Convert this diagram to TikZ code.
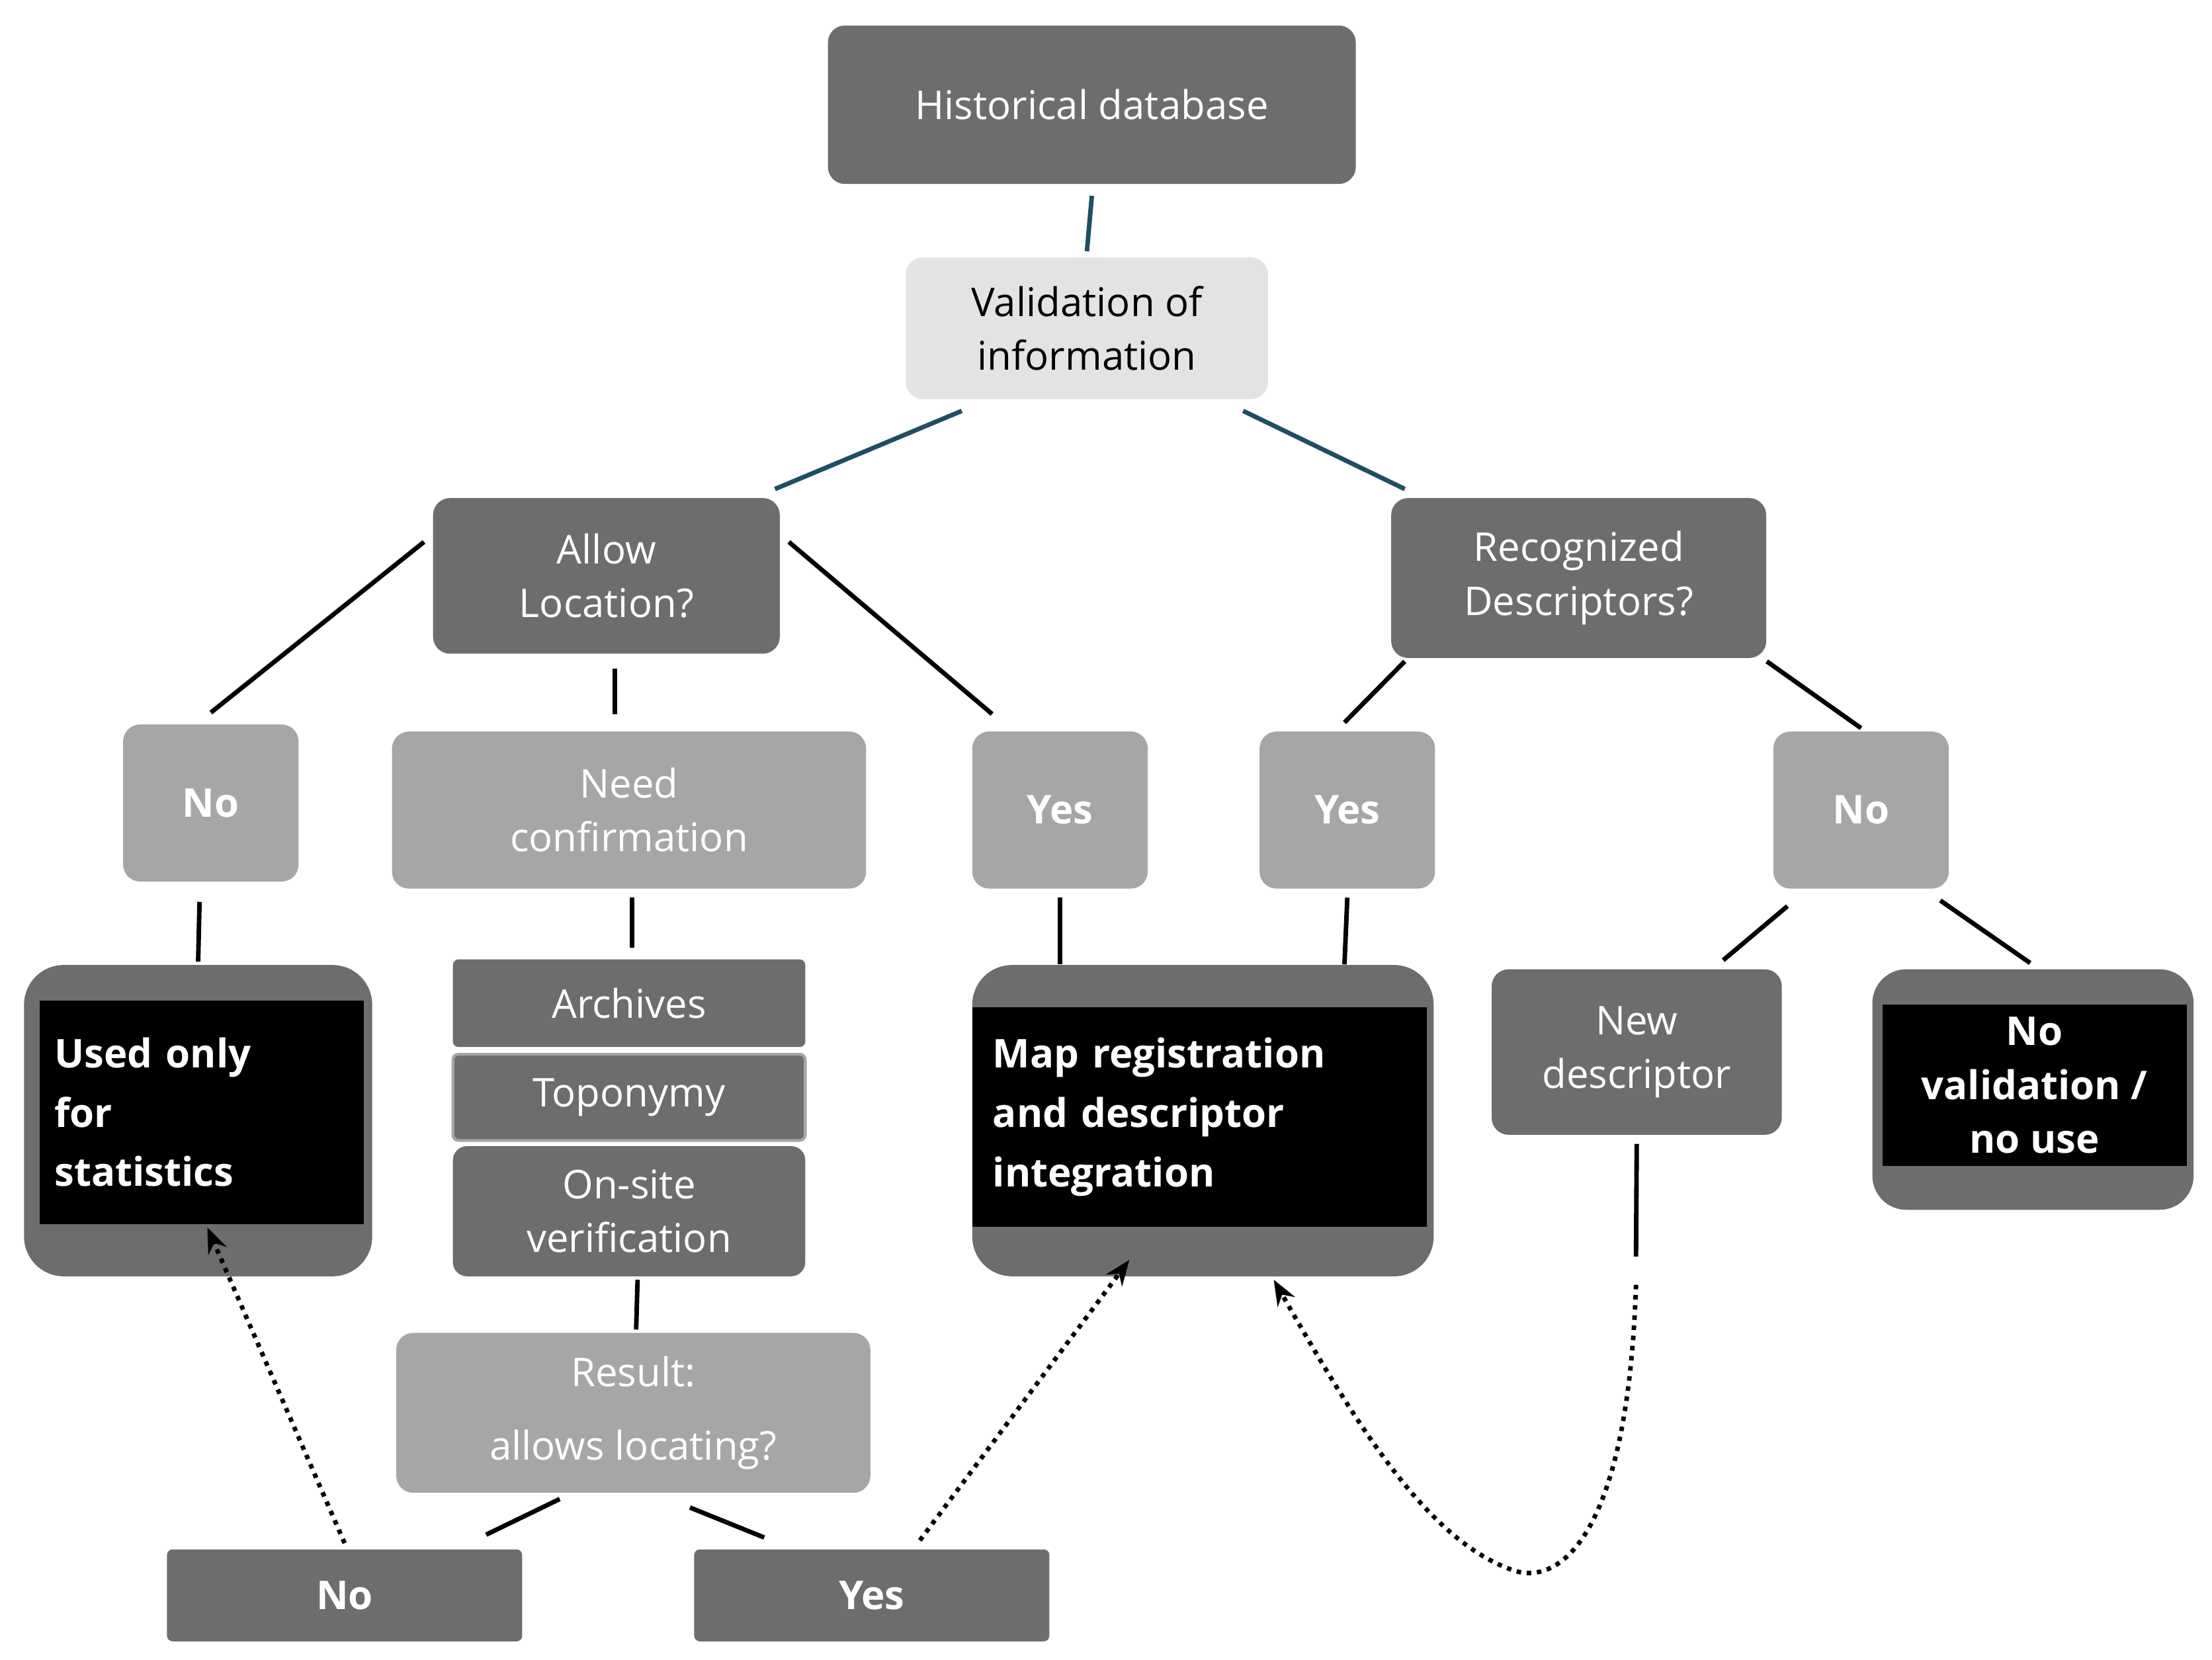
\documentclass[tikz,border=0pt]{standalone}
\usepackage{fontspec}
\setmainfont{Open Sans}
\usetikzlibrary{arrows.meta}
\definecolor{dk}{HTML}{6D6D6D}
\definecolor{lt}{HTML}{A6A6A6}
\definecolor{pl}{HTML}{E3E3E3}
\definecolor{tl}{HTML}{1F4E63}
\begin{document}
\begin{tikzpicture}[x=0.5pt,y=-0.5pt,
 box/.style={rounded corners=6pt,draw=none,inner sep=0pt,align=center,font=\fontsize{14}{19}\selectfont},
 dkb/.style={box,fill=dk,text=white},
 ltb/.style={box,fill=lt,text=white},
 plb/.style={box,fill=pl,text=black},
 blk/.style={fill=black,text=white,inner sep=0pt,font=\fontsize{14}{21}\selectfont\bfseries},
 ln/.style={line width=1.6pt,black},
 tln/.style={line width=1.6pt,tl},
 dot/.style={line width=1.6pt,dotted,-{Stealth[length=9pt,width=7pt]}}]
\useasboundingbox (0,0) rectangle (1563,1173);
\node[dkb,minimum width=186.5pt,minimum height=56pt] (hd) at (771.5,74) {Historical database};
\node[plb,minimum width=128pt,minimum height=50pt] (val) at (768,232) {Validation of\\information};
\node[dkb,minimum width=122.5pt,minimum height=55pt] (allow) at (428.5,407) {Allow\\Location?};
\node[dkb,minimum width=132.5pt,minimum height=56.5pt] (rec) at (1115.5,408.5) {Recognized\\Descriptors?};
\node[ltb,minimum width=62pt,minimum height=55.5pt,font=\fontsize{14}{19}\selectfont\bfseries] (nol) at (149,567.5) {No};
\node[ltb,minimum width=167.5pt,minimum height=55.5pt] (need) at (444.5,572.5) {Need\\confirmation};
\node[ltb,minimum width=62pt,minimum height=55.5pt,font=\fontsize{14}{19}\selectfont\bfseries] (yesl) at (749,572.5) {Yes};
\node[ltb,minimum width=62pt,minimum height=55.5pt,font=\fontsize{14}{19}\selectfont\bfseries] (yesr) at (952,572.5) {Yes};
\node[ltb,minimum width=62pt,minimum height=55.5pt,font=\fontsize{14}{19}\selectfont\bfseries] (nor) at (1315,572.5) {No};
\node[dkb,minimum width=123pt,minimum height=110pt,rounded corners=14pt] (used) at (140,792) {};
\node[blk,minimum width=114.5pt,minimum height=79pt,align=left,text width=104pt] (usedt) at (142.5,786) {Used only\\for\\statistics};
\node[dkb,minimum width=124.5pt,minimum height=31pt,rounded corners=2pt] (arch) at (444.5,709) {Archives};
\node[dkb,minimum width=124.5pt,minimum height=30.5pt,rounded corners=2pt,draw=lt,line width=1pt] (top) at (444.5,775.5) {Toponymy};
\node[dkb,minimum width=124.5pt,minimum height=46pt,rounded corners=5pt] (ons) at (444.5,856) {On-site\\verification};
\node[dkb,minimum width=163pt,minimum height=110pt,rounded corners=14pt] (map) at (850,792) {};
\node[blk,minimum width=160.5pt,minimum height=77.5pt,align=left,text width=146pt] (mapt) at (847.5,789.5) {Map registration\\and descriptor\\integration};
\node[dkb,minimum width=102.5pt,minimum height=58.5pt] (new) at (1156.5,743.5) {New\\descriptor};
\node[dkb,minimum width=113.5pt,minimum height=85pt,rounded corners=12pt] (nov) at (1436.5,770) {};
\node[blk,minimum width=107.5pt,minimum height=57pt,align=center,font=\fontsize{14}{19}\selectfont\bfseries] (novt) at (1437.5,767) {No\\validation /\\no use};
\node[ltb,minimum width=167.5pt,minimum height=56.5pt,font=\fontsize{14}{26}\selectfont] (res) at (447.5,998.5) {Result:\\allows locating?};
\node[dkb,minimum width=125.5pt,minimum height=32.5pt,rounded corners=2pt,font=\fontsize{14}{19}\selectfont\bfseries] (nob) at (243.5,1127.5) {No};
\node[dkb,minimum width=125.5pt,minimum height=32.5pt,rounded corners=2pt,font=\fontsize{14}{19}\selectfont\bfseries] (yesb) at (616,1127.5) {Yes};
% connectors
\draw[tln] ([yshift=-4pt]hd.south) -- ([yshift=2pt]val.north);
\draw[tln] ([xshift=20pt,yshift=-4pt]val.south west) -- ([xshift=121pt,yshift=3pt]allow.north west);
\draw[tln] ([xshift=-9pt,yshift=-4pt]val.south east) -- ([xshift=5pt,yshift=3pt]rec.north west);
\draw[ln] ([xshift=-3pt,yshift=12pt]allow.west) -- ([yshift=4pt]nol.north);
\draw[ln] ([yshift=-5pt,xshift=3pt]allow.south) -- ([yshift=6pt,xshift=-5pt]need.north);
\draw[ln] ([xshift=3pt,yshift=12pt]allow.east) -- ([xshift=-24pt,yshift=6pt]yesl.north);
\draw[ln] ([xshift=5pt,yshift=-1pt]rec.south west) -- ([xshift=-1pt,yshift=3pt]yesr.north);
\draw[ln] ([yshift=-1pt]rec.south east) -- ([yshift=1pt]nor.north);
\draw[ln] ([xshift=-4pt,yshift=-7pt]nol.south) -- ([yshift=1pt]used.north);
\draw[ln] ([xshift=1pt,yshift=-3pt]need.south) -- ([xshift=1pt,yshift=4pt]arch.north);
\draw[ln] ([yshift=-3pt]yesl.south) -- (yesl.south |- map.north);
\draw[ln] ([yshift=-3pt]yesr.south) -- ([xshift=-1pt]yesr.south |- map.north);
\draw[ln] ([xshift=-26pt,yshift=-6pt]nor.south) -- ([xshift=82pt,yshift=3pt]new.north west);
\draw[ln] ([xshift=28pt,yshift=-4pt]nor.south) -- ([xshift=-1pt,yshift=2pt]nov.north);
\draw[ln] ([xshift=3pt,yshift=-1pt]ons.south) -- ([xshift=1pt,yshift=1pt]res.north);
\draw[ln] ([xshift=-26pt,yshift=-2pt]res.south) -- ([xshift=50pt,yshift=5pt]nob.north);
\draw[ln] ([xshift=20pt,yshift=-5pt]res.south) -- ([xshift=-38pt,yshift=4pt]yesb.north);
\draw[dot] ([yshift=2pt]nob.north) -- ([xshift=2pt,yshift=-1pt]usedt.south);
\draw[dot] ([xshift=17pt,yshift=3pt]yesb.north) -- ([xshift=-26pt,yshift=6pt]map.south);
\coordinate (nd) at (1156,888);
\draw[ln] ([yshift=-3pt]new.south) -- (nd);
\draw[dot] (1156,908) .. controls (1150,1090) and (1100,1120) .. (1070,1110) .. controls (1010,1090) and (960,1010) .. ([xshift=25pt,yshift=-1pt]map.south);
\end{tikzpicture}
\end{document}
